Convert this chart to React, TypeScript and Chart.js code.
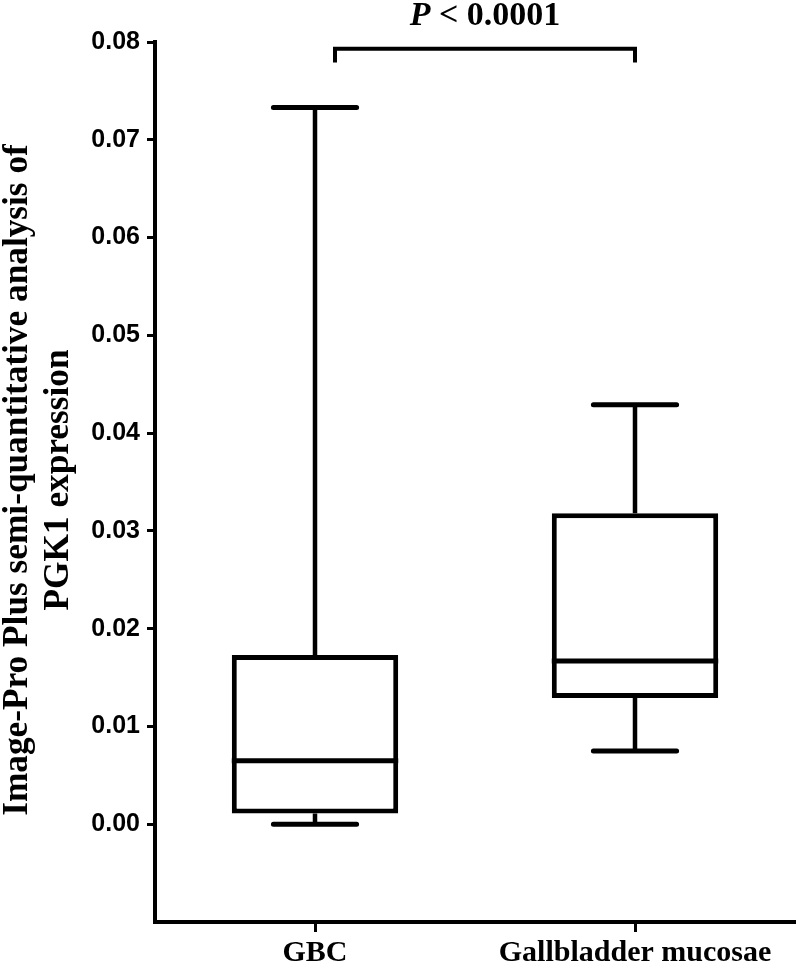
import React, { useEffect, useRef } from "react";
import { Chart, registerables } from "chart.js";

Chart.register(...registerables);

const categories = ["GBC", "Gallbladder mucosae"];
const whiskerMin = [0.0, 0.0075];
const q1 = [0.0011, 0.0129];
const median = [0.0065, 0.0167];
const q3 = [0.0173, 0.0318];
const whiskerMax = [0.0733, 0.0429];
const yMin = -0.01;
const yMax = 0.08;
const yStep = 0.01;
const yTitleLines = ["Image-Pro Plus semi-quantitative analysis of", "PGK1 expression"];
const pText = "< 0.0001";
const bracketFrom = 0.0625;
const bracketTo = 1;
const bracketValue = 0.0793;
const bracketDrop = 0.0014;

const SERIF = "'Liberation Serif', 'Times New Roman', serif";
const SANS = "'Liberation Sans', Arial, sans-serif";

const boxPlugin = {
  id: "boxExtras",
  beforeDatasetsDraw(chart: any) {
    const ctx = chart.ctx;
    const y = chart.scales.y;
    const meta = chart.getDatasetMeta(0);
    ctx.save();
    ctx.strokeStyle = "#000";
    meta.data.forEach((el: any, i: number) => {
      const cx = el.x;
      const half = el.width / 4;
      ctx.lineCap = "butt";
      ctx.lineWidth = 4.5;
      ctx.beginPath();
      ctx.moveTo(cx, y.getPixelForValue(q3[i]));
      ctx.lineTo(cx, y.getPixelForValue(whiskerMax[i]));
      ctx.moveTo(cx, y.getPixelForValue(q1[i]));
      ctx.lineTo(cx, y.getPixelForValue(whiskerMin[i]));
      ctx.stroke();
      ctx.lineCap = "round";
      ctx.lineWidth = 5;
      ctx.beginPath();
      const yMaxPx = y.getPixelForValue(whiskerMax[i]);
      const yMinPx = y.getPixelForValue(whiskerMin[i]);
      ctx.moveTo(cx - half, yMaxPx);
      ctx.lineTo(cx + half, yMaxPx);
      ctx.moveTo(cx - half, yMinPx);
      ctx.lineTo(cx + half, yMinPx);
      ctx.stroke();
    });
    ctx.restore();
  },
  afterDatasetsDraw(chart: any) {
    const ctx = chart.ctx;
    const y = chart.scales.y;
    const x = chart.scales.x;
    const meta = chart.getDatasetMeta(0);
    ctx.save();
    ctx.strokeStyle = "#000";
    ctx.fillStyle = "#000";
    // medians
    ctx.lineWidth = 5;
    ctx.lineCap = "butt";
    meta.data.forEach((el: any, i: number) => {
      const py = y.getPixelForValue(median[i]);
      ctx.beginPath();
      ctx.moveTo(el.x - el.width / 2, py);
      ctx.lineTo(el.x + el.width / 2, py);
      ctx.stroke();
    });
    // significance bracket
    const bx0 = x.getPixelForValue(bracketFrom);
    const bx1 = x.getPixelForValue(bracketTo);
    const by = y.getPixelForValue(bracketValue);
    const byd = y.getPixelForValue(bracketValue - bracketDrop);
    ctx.lineWidth = 4;
    ctx.lineJoin = "miter";
    ctx.beginPath();
    ctx.moveTo(bx0, byd);
    ctx.lineTo(bx0, by);
    ctx.lineTo(bx1, by);
    ctx.lineTo(bx1, byd);
    ctx.stroke();
    // P value text
    ctx.textBaseline = "alphabetic";
    ctx.textAlign = "left";
    ctx.font = `italic bold 34px ${SERIF}`;
    const pW = ctx.measureText("P").width;
    ctx.font = `bold 34px ${SERIF}`;
    const restW = ctx.measureText(" " + pText).width;
    const total = pW + restW;
    const start = (bx0 + bx1) / 2 - total / 2;
    ctx.font = `italic bold 34px ${SERIF}`;
    ctx.fillText("P", start, by - 24);
    ctx.font = `bold 34px ${SERIF}`;
    ctx.fillText(" " + pText, start + pW, by - 24);
    // y axis title
    const cy = (chart.chartArea.top + chart.chartArea.bottom) / 2 - 2;
    const baselines = [27, 68];
    ctx.font = `bold 36px ${SERIF}`;
    ctx.textAlign = "center";
    yTitleLines.forEach((line, i) => {
      ctx.save();
      ctx.translate(baselines[i], cy);
      ctx.rotate(-Math.PI / 2);
      ctx.scale(0.98, 1);
      ctx.fillText(line, 0, 0);
      ctx.restore();
    });
    ctx.restore();
  },
};

export default function App() {
  const ref = useRef<HTMLCanvasElement>(null);
  useEffect(() => {
    if (!ref.current) return;
    const chart = new Chart(ref.current, {
      type: "bar",
      data: {
        labels: categories,
        datasets: [
          {
            data: categories.map((_, i) => [q1[i], q3[i]]),
            backgroundColor: "#ffffff",
            borderColor: "#000000",
            borderWidth: 5,
            borderSkipped: false,
            barPercentage: 0.52,
            categoryPercentage: 1,
          } as any,
        ],
      },
      options: {
        animation: false,
        responsive: false,
        devicePixelRatio: 1,
        layout: { padding: { left: 0, right: 5, top: 42, bottom: 0 } },
        plugins: { legend: { display: false }, tooltip: { enabled: false } },
        scales: {
          x: {
            offset: true,
            afterFit: (s: any) => {
              s.height = 43;
            },
            border: { display: true, color: "#000", width: 4 },
            grid: {
              offset: false,
              drawOnChartArea: false,
              drawTicks: true,
              tickLength: 10,
              tickWidth: 3,
              tickColor: "#000",
            },
            ticks: {
              color: "#000",
              padding: 3,
              font: { family: SERIF, weight: "bold", size: 30 },
            },
          },
          y: {
            min: yMin,
            max: yMax,
            afterFit: (s: any) => {
              s.width = 155;
            },
            border: { display: true, color: "#000", width: 4 },
            grid: {
              drawOnChartArea: false,
              drawTicks: true,
              tickLength: 8,
              tickWidth: 3,
              tickColor: (c: any) =>
                c.tick && c.tick.value < -1e-9 ? "rgba(0,0,0,0)" : "#000",
            },
            ticks: {
              stepSize: yStep,
              color: "#000",
              padding: 7,
              font: { family: SANS, weight: "bold", size: 25 },
              callback: (v: any) => (Number(v) < -1e-9 ? "" : Number(v).toFixed(2)),
            },
          },
        },
      },
      plugins: [boxPlugin],
    });
    return () => chart.destroy();
  }, []);
  return (
    <div style={{ position: "absolute", left: 0, top: 0, width: 800, height: 965, background: "#fff" }}>
      <canvas ref={ref} width={800} height={965} />
    </div>
  );
}
